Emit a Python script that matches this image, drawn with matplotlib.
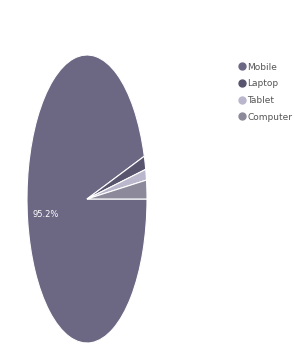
import matplotlib
matplotlib.use("Agg")
import matplotlib.pyplot as plt
from matplotlib.lines import Line2D

# data
devices = ["Mobile", "Laptop", "Tablet", "Computer"]
shares = [95.2, 1.5, 1.2, 2.1]
colors = ["#6c6884", "#58546e", "#bab6cc", "#8c8a9a"]

fig = plt.figure(figsize=(2.95, 3.49), dpi=100, facecolor="white")

# pie is drawn stretched into a tall ellipse, like the reference
ax = fig.add_axes([27 / 295, 6 / 349, 120 / 295, 288 / 349])
wedges, texts, autotexts = ax.pie(
    shares,
    colors=colors,
    startangle=0,
    counterclock=False,
    autopct=lambda p: f"{p:.1f}%" if p > 50 else "",
    pctdistance=0.7,
    wedgeprops=dict(edgecolor="white", linewidth=0.8),
    textprops=dict(color="white", fontsize=6),
)
ax.set_aspect("auto")
ax.set_xlim(-1, 1)
ax.set_ylim(-1, 1)
ax.axis("off")

handles = [
    Line2D([0], [0], marker="o", linestyle="none", markersize=5,
           markerfacecolor=c, markeredgecolor=c)
    for c in colors
]
fig.legend(
    handles, devices,
    loc="upper left",
    bbox_to_anchor=(233 / 295, 1 - 58 / 349),
    frameon=False,
    fontsize=6.5,
    labelcolor="#555555",
    handletextpad=0.1,
    handlelength=1.0,
    labelspacing=0.85,
    borderpad=0,
)

fig.savefig("out.png", dpi=100, facecolor="white")
